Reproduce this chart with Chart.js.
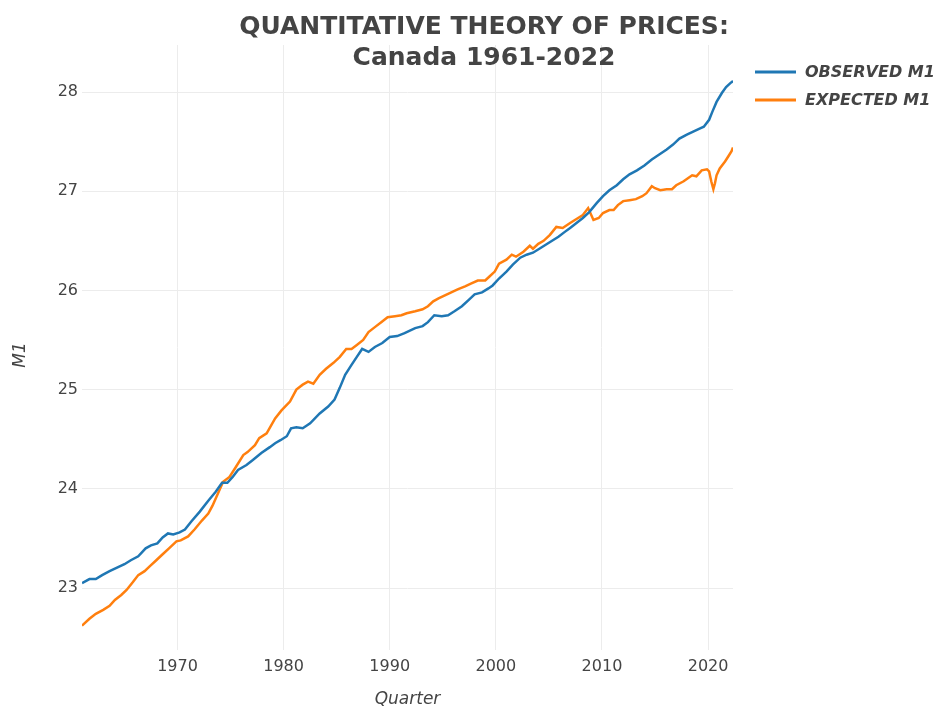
<!DOCTYPE html>
<html>
<head>
<meta charset="utf-8">
<script src="https://cdn.jsdelivr.net/npm/chart.js@4.4.1/dist/chart.umd.min.js"></script>
<style>
  body { margin: 0; background: #fff; }
  #wrap { width: 944px; height: 711px; }
</style>
</head>
<body>
<div id="wrap"><canvas id="myChart" width="944" height="711"></canvas></div>
<script>
// Values (log M1), x in decimal years
const observedYears = [1961.0, 1961.7, 1962.3, 1962.9, 1963.6, 1964.4, 1965.0, 1965.6, 1966.3, 1967.0, 1967.5, 1968.1, 1968.6, 1969.1, 1969.6, 1970.2, 1970.7, 1971.3, 1972.1, 1972.9, 1973.6, 1974.2, 1974.7, 1975.2, 1975.7, 1976.5, 1977.1, 1977.9, 1978.7, 1979.2, 1979.7, 1980.3, 1980.7, 1981.2, 1981.8, 1982.5, 1983.4, 1984.2, 1984.8, 1985.3, 1985.8, 1986.4, 1986.9, 1987.4, 1988.0, 1988.6, 1989.3, 1990.0, 1990.7, 1991.4, 1992.0, 1992.4, 1993.1, 1993.6, 1994.2, 1994.9, 1995.5, 1996.1, 1996.8, 1997.4, 1998.0, 1998.7, 1999.3, 1999.7, 2000.3, 2001.0, 2001.6, 2002.3, 2002.9, 2003.5, 2004.1, 2004.7, 2005.3, 2005.9, 2006.5, 2007.0, 2007.6, 2008.2, 2008.8, 2009.5, 2010.1, 2010.7, 2011.4, 2012.0, 2012.6, 2013.3, 2014.0, 2014.7, 2015.4, 2016.1, 2016.7, 2017.3, 2018.0, 2018.6, 2019.2, 2019.6, 2020.1, 2020.4, 2020.8, 2021.3, 2021.7, 2022.1, 2022.35]
const observedM1 = [23.05, 23.09, 23.09, 23.13, 23.17, 23.21, 23.24, 23.28, 23.32, 23.40, 23.43, 23.45, 23.51, 23.55, 23.54, 23.56, 23.59, 23.67, 23.77, 23.88, 23.97, 24.06, 24.06, 24.12, 24.19, 24.24, 24.29, 24.36, 24.42, 24.46, 24.49, 24.53, 24.61, 24.62, 24.61, 24.66, 24.76, 24.83, 24.90, 25.02, 25.15, 25.25, 25.33, 25.41, 25.38, 25.43, 25.47, 25.53, 25.54, 25.57, 25.60, 25.62, 25.64, 25.68, 25.75, 25.74, 25.75, 25.79, 25.84, 25.90, 25.96, 25.98, 26.02, 26.05, 26.12, 26.19, 26.26, 26.33, 26.36, 26.38, 26.42, 26.46, 26.50, 26.54, 26.59, 26.63, 26.68, 26.73, 26.79, 26.88, 26.95, 27.01, 27.06, 27.12, 27.17, 27.21, 27.26, 27.32, 27.37, 27.42, 27.47, 27.53, 27.57, 27.60, 27.63, 27.65, 27.72, 27.80, 27.90, 27.99, 28.05, 28.09, 28.11]

const expectedYears = [1961.0, 1961.7, 1962.3, 1963.0, 1963.6, 1964.1, 1964.7, 1965.2, 1965.8, 1966.3, 1966.9, 1967.4, 1968.0, 1968.6, 1969.2, 1969.9, 1970.3, 1971.0, 1971.6, 1972.3, 1972.9, 1973.3, 1973.8, 1974.3, 1974.9, 1975.5, 1976.2, 1976.6, 1977.3, 1977.7, 1978.4, 1979.2, 1979.8, 1980.6, 1981.2, 1981.8, 1982.3, 1982.8, 1983.4, 1984.0, 1984.7, 1985.3, 1985.9, 1986.4, 1986.9, 1987.5, 1988.0, 1988.6, 1989.2, 1989.8, 1990.5, 1991.1, 1991.6, 1992.4, 1993.1, 1993.6, 1994.1, 1994.6, 1995.2, 1995.8, 1996.4, 1997.1, 1997.7, 1998.3, 1999.0, 1999.4, 1999.9, 2000.3, 2001.0, 2001.5, 2001.9, 2002.6, 2003.2, 2003.5, 2004.0, 2004.5, 2005.1, 2005.7, 2006.3, 2007.0, 2007.6, 2008.2, 2008.7, 2009.2, 2009.7, 2010.1, 2010.7, 2011.1, 2011.5, 2012.0, 2012.6, 2013.2, 2013.8, 2014.2, 2014.7, 2015.0, 2015.5, 2016.1, 2016.6, 2017.0, 2017.7, 2018.1, 2018.5, 2018.9, 2019.4, 2019.9, 2020.1, 2020.3, 2020.5, 2020.65, 2020.8, 2021.1, 2021.6, 2021.9, 2022.2, 2022.35]
const expectedM1 = [22.62, 22.69, 22.74, 22.78, 22.82, 22.88, 22.93, 22.98, 23.06, 23.13, 23.17, 23.22, 23.28, 23.34, 23.40, 23.47, 23.48, 23.52, 23.59, 23.68, 23.75, 23.83, 23.95, 24.07, 24.12, 24.22, 24.34, 24.37, 24.44, 24.51, 24.56, 24.71, 24.79, 24.88, 25.00, 25.05, 25.08, 25.06, 25.15, 25.21, 25.27, 25.33, 25.41, 25.41, 25.45, 25.50, 25.58, 25.63, 25.68, 25.73, 25.74, 25.75, 25.77, 25.79, 25.81, 25.84, 25.89, 25.92, 25.95, 25.98, 26.01, 26.04, 26.07, 26.10, 26.10, 26.14, 26.19, 26.27, 26.31, 26.36, 26.34, 26.39, 26.45, 26.42, 26.47, 26.50, 26.56, 26.64, 26.63, 26.68, 26.72, 26.76, 26.83, 26.71, 26.73, 26.78, 26.81, 26.81, 26.86, 26.90, 26.91, 26.92, 26.95, 26.98, 27.05, 27.03, 27.01, 27.02, 27.02, 27.06, 27.10, 27.13, 27.16, 27.15, 27.21, 27.22, 27.20, 27.10, 27.02, 27.08, 27.16, 27.23, 27.30, 27.35, 27.40, 27.44]

const xTicks = [1970, 1980, 1990, 2000, 2010, 2020]
const yTicks = [23, 24, 25, 26, 27, 28]
const seriesNames = ['OBSERVED M1', 'EXPECTED M1']
const titleLines = ['QUANTITATIVE THEORY OF PRICES:', 'Canada 1961-2022']

const blue = '#1f77b4'
const orange = '#ff7f0e'
const textColor = '#444'
const font = '"DejaVu Sans", Verdana, sans-serif'

// titles, legend and axis titles drawn on top
const decorations = {
  id: 'decorations',
  afterDraw(chart) {
    const c = chart.ctx
    const area = chart.chartArea
    c.save()
    c.fillStyle = textColor
    c.textAlign = 'center'
    c.textBaseline = 'middle'
    c.font = 'bold 25px ' + font
    c.fillText(titleLines[0], 484, 27)
    c.fillText(titleLines[1], 484, 58)

    c.font = 'italic 17px ' + font
    c.fillText('Quarter', (area.left + area.right) / 2, 700)
    c.save()
    c.translate(21, 355)
    c.rotate(-Math.PI / 2)
    c.fillText('M1', 0, 0)
    c.restore()

    const colors = [blue, orange]
    c.textAlign = 'left'
    c.font = 'bold italic 16px ' + font
    seriesNames.forEach((name, i) => {
      const y = 72 + i * 28
      c.strokeStyle = colors[i]
      c.lineWidth = 3
      c.beginPath()
      c.moveTo(755, y)
      c.lineTo(796, y)
      c.stroke()
      c.fillText(name, 805, y + 1)
    })
    c.restore()
  }
}

const ctx = document.getElementById('myChart')
const config = {
  type: 'line',
  data: {
    datasets: [
      { label: seriesNames[0],
        data: observedYears.map((x, i) => ({ x: x, y: observedM1[i] })),
        borderColor: blue, borderWidth: 2.5, pointRadius: 0, tension: 0 },
      { label: seriesNames[1],
        data: expectedYears.map((x, i) => ({ x: x, y: expectedM1[i] })),
        borderColor: orange, borderWidth: 2.5, pointRadius: 0, tension: 0 }
    ]
  },
  options: {
    responsive: false,
    animation: false,
    layout: { padding: { top: 45, right: 211, left: 0, bottom: 0 } },
    plugins: { legend: { display: false }, tooltip: { enabled: false } },
    scales: {
      x: {
        type: 'linear', min: 1961, max: 2022.35,
        afterBuildTicks: s => { s.ticks = xTicks.map(v => ({ value: v })) },
        afterFit: s => { s.height = 61 },
        grid: { color: '#ececec', lineWidth: 1, drawTicks: false },
        border: { display: false },
        ticks: { color: textColor, font: { family: font, size: 16 }, padding: 7, maxRotation: 0,
                 callback: v => String(v) }
      },
      y: {
        min: 22.375, max: 28.474,
        afterBuildTicks: s => { s.ticks = yTicks.map(v => ({ value: v })) },
        afterFit: s => { s.width = 82 },
        grid: { color: '#ececec', lineWidth: 1, drawTicks: false },
        border: { display: false },
        ticks: { color: textColor, font: { family: font, size: 16 }, padding: 4 }
      }
    }
  },
  plugins: [decorations]
}

const myChart = new Chart(ctx, config)
</script>
</body>
</html>
